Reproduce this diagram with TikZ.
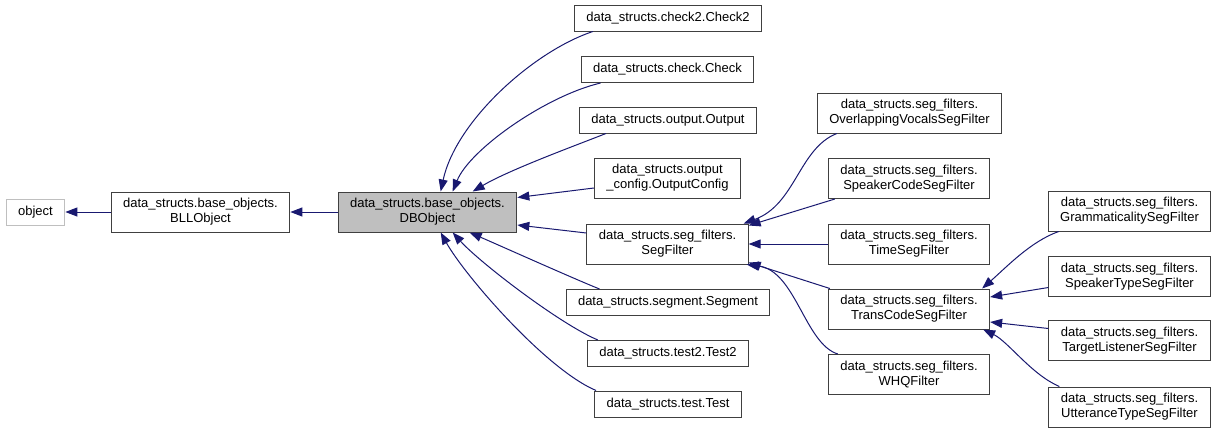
\documentclass[tikz,border=0pt]{standalone}
\usepackage{fontspec}
\setmainfont{Liberation Sans}
\definecolor{edgeblue}{RGB}{25,25,112}
\definecolor{boxgray}{RGB}{64,64,64}
\definecolor{rootgray}{RGB}{191,191,191}
\usetikzlibrary{arrows.meta,positioning}

\begin{document}
\begin{tikzpicture}[x=1pt,y=-1pt,
    classbox/.style={draw=boxgray, line width=1pt, fill=white, align=center,
          inner xsep=12pt, inner ysep=0pt, minimum height=26pt,
          font=\fontsize{13}{15}\selectfont},
    twoline/.style={classbox, minimum height=40pt},
    rootbox/.style={classbox, draw=rootgray},
    focusbox/.style={twoline, fill=rootgray},
    inherit/.style={draw=edgeblue, line width=1pt, -{Triangle[length=12pt,width=9pt]}}]
  \useasboundingbox (0,0) rectangle (1216,432);

  \node[rootbox] (object) at (35.5,212) {object};
  \node[twoline] (bllobject) at (200.5,212) {data\_structs.base\_objects.\\BLLObject};
  \node[focusbox] (dbobject) at (427.5,212) {data\_structs.base\_objects.\\DBObject};

  \node[classbox] (check2) at (668,18) {data\_structs.check2.Check2};
  \node[classbox] (check) at (667.5,69.5) {data\_structs.check.Check};
  \node[classbox] (output) at (668,120) {data\_structs.output.Output};
  \node[twoline] (outputconfig) at (667.5,178) {data\_structs.output\\\_config.OutputConfig};
  \node[twoline] (segfilter) at (667.5,244) {data\_structs.seg\_filters.\\SegFilter};
  \node[classbox] (segment) at (668,302.5) {data\_structs.segment.Segment};
  \node[classbox] (test2) at (668,353.5) {data\_structs.test2.Test2};
  \node[classbox] (test) at (668,404) {data\_structs.test.Test};

  \node[twoline] (overlapping) at (909.5,113) {data\_structs.seg\_filters.\\OverlappingVocalsSegFilter};
  \node[twoline] (speakercode) at (909,178.5) {data\_structs.seg\_filters.\\SpeakerCodeSegFilter};
  \node[twoline] (timeseg) at (909,244) {data\_structs.seg\_filters.\\TimeSegFilter};
  \node[twoline] (transcode) at (909,309) {data\_structs.seg\_filters.\\TransCodeSegFilter};
  \node[twoline] (whq) at (909,374.5) {data\_structs.seg\_filters.\\WHQFilter};

  \node[twoline] (grammaticality) at (1129.5,211) {data\_structs.seg\_filters.\\GrammaticalitySegFilter};
  \node[twoline] (speakertype) at (1129.5,276.5) {data\_structs.seg\_filters.\\SpeakerTypeSegFilter};
  \node[twoline] (targetlistener) at (1129.5,340.5) {data\_structs.seg\_filters.\\TargetListenerSegFilter};
  \node[twoline] (utterance) at (1129.5,407) {data\_structs.seg\_filters.\\UtteranceTypeSegFilter};

  \draw[inherit] (bllobject.west) -- (object.east);
  \draw[inherit] (dbobject.west) -- (bllobject.east);

  \draw[inherit] ([xshift=19]check2.south west) .. controls +(-60,20) and +(15,-70) .. ([xshift=103]dbobject.north west);
  \draw[inherit] ([xshift=20]check.south west) .. controls +(-55,13) and +(17,-42) .. ([xshift=115]dbobject.north west);
  \draw[inherit] ([xshift=27]output.south west) .. controls +(-25,10) and +(37,-22) .. ([xshift=135]dbobject.north west);
  \draw[inherit] ([yshift=-10]outputconfig.west) -- ([yshift=-6]dbobject.north east);
  \draw[inherit] ([yshift=11]segfilter.west) -- ([yshift=-13]dbobject.east);
  \draw[inherit] ([xshift=34]segment.north west) .. controls +(-25,-10) and +(30,13) .. ([xshift=132]dbobject.south west);
  \draw[inherit] ([xshift=11]test2.north west) .. controls +(-38,-16) and +(27,30) .. ([xshift=115]dbobject.south west);
  \draw[inherit] ([xshift=2]test.north west) .. controls +(-50,-21) and +(24,43) .. ([xshift=103]dbobject.south west);

  \draw[inherit] ([xshift=20]overlapping.south west) .. controls +(-38,15) and +(52,-19) .. ([xshift=-5]segfilter.north east);
  \draw[inherit] ([xshift=7]speakercode.south west) -- ([yshift=-2]segfilter.north east);
  \draw[inherit] (timeseg.west) -- (segfilter.east);
  \draw[inherit] ([xshift=2]transcode.north west) -- ([yshift=2]segfilter.south east);
  \draw[inherit] ([xshift=10]whq.north west) .. controls +(-33,-10) and +(49,6) .. ([xshift=-2]segfilter.south east);

  \draw[inherit] ([xshift=11]grammaticality.south west) .. controls +(-28,10) and +(25,-22) .. ([xshift=-8]transcode.north east);
  \draw[inherit] ([yshift=-11]speakertype.west) -- ([yshift=12]transcode.east);
  \draw[inherit] ([yshift=12]targetlistener.west) -- ([yshift=-13]transcode.east);
  \draw[inherit] ([xshift=11]utterance.north west) .. controls +(-28,-12) and +(25,12) .. ([xshift=-7]transcode.south east);
\end{tikzpicture}
\end{document}
